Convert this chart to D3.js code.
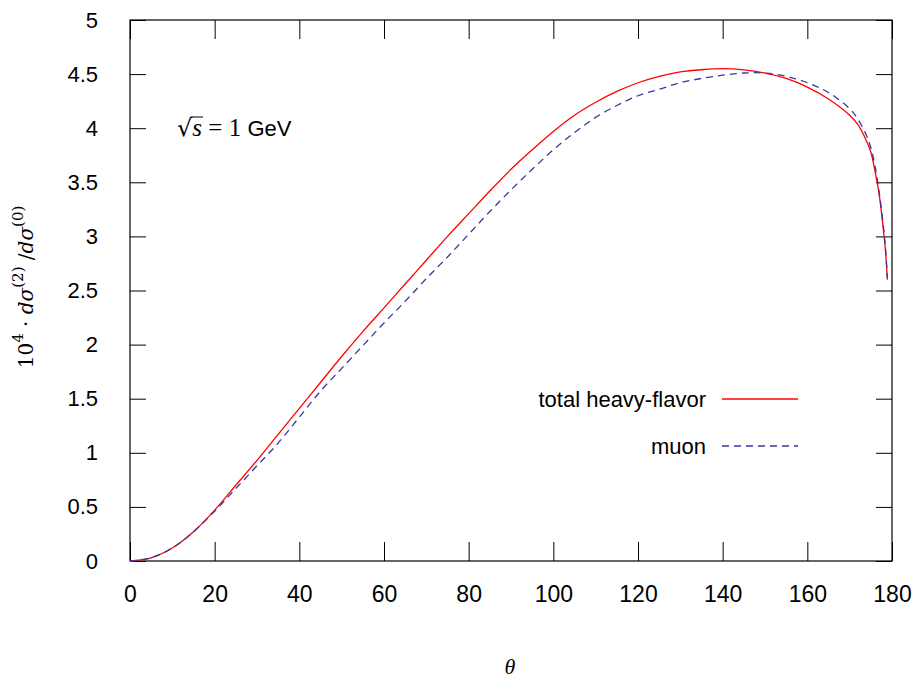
<!DOCTYPE html>
<html>
<head>
<meta charset="utf-8">
<script src="https://cdnjs.cloudflare.com/ajax/libs/d3/7.8.5/d3.min.js"></script>
<style>
  body { margin: 0; background: #fff; }
  svg text { font-family: "Liberation Sans", Arial, sans-serif; fill: #000; }
  svg text.math { font-family: "Liberation Serif", "DejaVu Serif", serif; }
</style>
</head>
<body>
<div id="graph"></div>
<script>
// Data
const theta = [0, 5, 10, 15, 20, 25, 30, 35, 40, 45, 50, 55, 60, 65, 70, 75, 80, 85, 90, 95,
  100, 105, 110, 115, 120, 125, 130, 135, 140, 145, 150, 155, 160, 165, 170, 172, 174, 175,
  176, 177, 178, 178.5, 178.9];
const totalHeavyFlavor = [0, 0.03, 0.12, 0.27, 0.47, 0.70, 0.93, 1.17, 1.41, 1.65, 1.89, 2.12,
  2.34, 2.56, 2.78, 3.00, 3.21, 3.42, 3.62, 3.80, 3.97, 4.12, 4.24, 4.34, 4.42, 4.48, 4.52,
  4.54, 4.55, 4.54, 4.51, 4.46, 4.38, 4.27, 4.12, 4.03, 3.88, 3.78, 3.60, 3.38, 3.05, 2.85, 2.60];
const muon = [0, 0.03, 0.12, 0.27, 0.46, 0.67, 0.88, 1.09, 1.33, 1.57, 1.78, 1.99,
  2.20, 2.40, 2.61, 2.81, 3.02, 3.23, 3.43, 3.62, 3.80, 3.96, 4.10, 4.21, 4.30, 4.36, 4.42,
  4.46, 4.49, 4.51, 4.51, 4.48, 4.42, 4.33, 4.18, 4.08, 3.93, 3.82, 3.65, 3.40, 3.08, 2.87, 2.62];
const xTicks = [0, 20, 40, 60, 80, 100, 120, 140, 160, 180];
const yTicks = [0, 0.5, 1, 1.5, 2, 2.5, 3, 3.5, 4, 4.5, 5];
const seriesNames = ["total heavy-flavor", "muon"];

// Size and margins
const totalWidth = 916, totalHeight = 680;
const margin = {top: 20, right: 24, bottom: 119, left: 130};
const width = totalWidth - margin.left - margin.right;
const height = totalHeight - margin.top - margin.bottom;

const svg = d3.select("#graph")
  .append("svg")
    .attr("width", totalWidth)
    .attr("height", totalHeight);

const g = svg.append("g")
  .attr("transform", `translate(${margin.left}, ${margin.top})`);

const x = d3.scaleLinear().domain([0, 180]).range([0, width]);
const y = d3.scaleLinear().domain([0, 5]).range([height, 0]);

// Axes with inward ticks, mirrored on top and right
const fmt = d => d3.format("~g")(d);
g.append("g")
  .attr("transform", `translate(0, ${height})`)
  .call(d3.axisBottom(x).tickValues(xTicks).tickSize(-19).tickPadding(25).tickFormat(fmt))
  .call(a => a.select(".domain").remove())
  .call(a => a.selectAll("text").style("font-size", "23px").attr("dy", "0.71em"));
g.append("g")
  .call(d3.axisTop(x).tickValues(xTicks).tickSize(-19).tickFormat(""))
  .call(a => a.select(".domain").remove());
g.append("g")
  .call(d3.axisLeft(y).tickValues(yTicks).tickSize(-16).tickPadding(32).tickFormat(fmt))
  .call(a => a.select(".domain").remove())
  .call(a => a.selectAll("text").style("font-size", "22px"));
g.append("g")
  .attr("transform", `translate(${width}, 0)`)
  .call(d3.axisRight(y).tickValues(yTicks).tickSize(-16).tickFormat(""))
  .call(a => a.select(".domain").remove());

// Frame
g.append("rect")
  .attr("width", width)
  .attr("height", height)
  .attr("fill", "none")
  .attr("stroke", "#000")
  .attr("stroke-width", 1.2);

// Lines
const line = d3.line()
  .x(d => x(d[0]))
  .y(d => y(d[1]))
  .curve(d3.curveCatmullRom.alpha(0.5));

const styles = [
  {color: "#ff0000", dash: null},
  {color: "#3838a0", dash: "7,5"}
];
const seriesData = [totalHeavyFlavor, muon].map(vals => theta.map((t, i) => [t, vals[i]]));

g.selectAll(".series")
  .data(seriesData)
  .join("path")
    .attr("class", "series")
    .attr("d", d => line(d))
    .attr("fill", "none")
    .attr("stroke", (d, i) => styles[i].color)
    .attr("stroke-width", 1.3)
    .attr("stroke-dasharray", (d, i) => styles[i].dash);

// Legend
const legendY = [399 - margin.top, 446 - margin.top];
seriesNames.forEach((name, i) => {
  g.append("text")
    .attr("x", 706 - margin.left)
    .attr("y", legendY[i] + 8)
    .attr("text-anchor", "end")
    .style("font-size", "22px")
    .text(name);
  g.append("line")
    .attr("x1", 722 - margin.left).attr("x2", 798 - margin.left)
    .attr("y1", legendY[i]).attr("y2", legendY[i])
    .attr("stroke", styles[i].color)
    .attr("stroke-width", 1.3)
    .attr("stroke-dasharray", styles[i].dash);
});

// sqrt(s) = 1 GeV annotation
const ann = svg.append("text").attr("x", 177).attr("y", 136).style("font-size", "22px");
ann.append("tspan").style("font-family", "'DejaVu Serif', serif").style("font-size", "24px").text("\u221A");
const sT = ann.append("tspan").style("font-family", "'Liberation Serif', serif").style("font-style", "italic").style("font-size", "25px").text("s");
ann.append("tspan").style("font-family", "'Liberation Serif', serif").style("font-size", "25px").text(" = 1 ");
ann.append("tspan").text("GeV");
const sBox = sT.node().getExtentOfChar(0);
svg.append("line")
  .attr("x1", sBox.x - 1).attr("x2", sBox.x + sBox.width + 1)
  .attr("y1", 117).attr("y2", 117)
  .attr("stroke", "#000").attr("stroke-width", 1);

// Y axis label
const yl = svg.append("text")
  .attr("transform", "translate(33, 287) rotate(-90)")
  .attr("text-anchor", "middle")
  .style("font-family", "'DejaVu Serif', serif")
  .style("font-size", "20px");
yl.append("tspan").text("10");
yl.append("tspan").attr("dy", -10).style("font-size", "15px").text("4");
yl.append("tspan").attr("dy", 10).text(" \u00B7 ");
yl.append("tspan").style("font-style", "italic").text("d\u03C3");
yl.append("tspan").attr("dy", -10).style("font-size", "15px").text("(2)");
yl.append("tspan").attr("dy", 10).text(" /");
yl.append("tspan").style("font-style", "italic").text("d\u03C3");
yl.append("tspan").attr("dy", -10).style("font-size", "15px").text("(0)");

// X axis label
svg.append("text")
  .attr("class", "math")
  .attr("x", 510)
  .attr("y", 674)
  .attr("text-anchor", "middle")
  .style("font-size", "22px")
  .style("font-style", "italic")
  .text("\u03B8");
</script>
</body>
</html>
